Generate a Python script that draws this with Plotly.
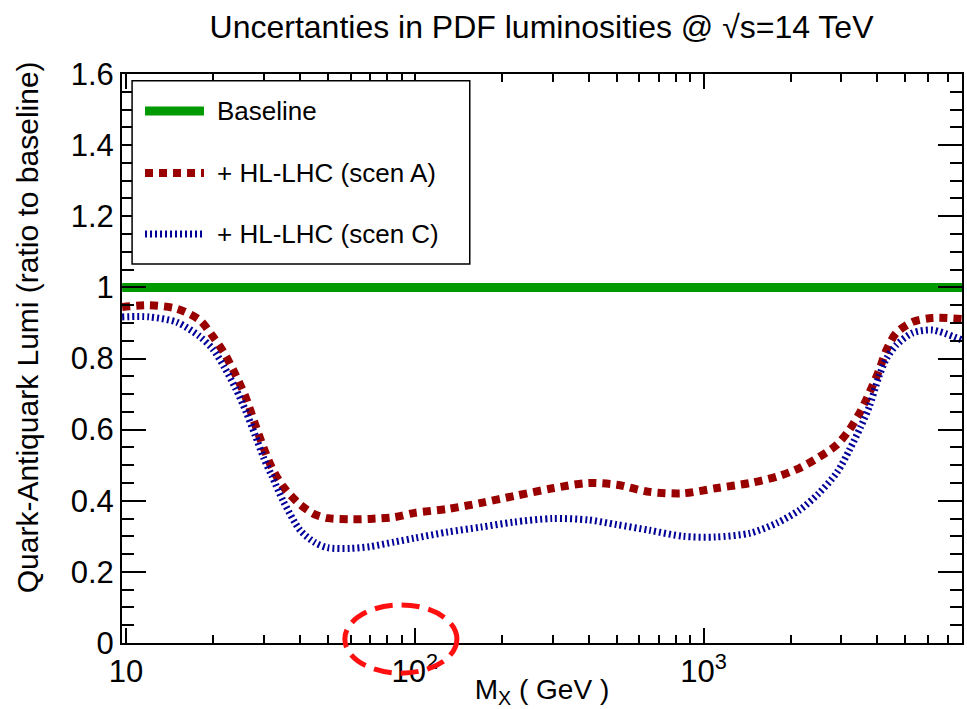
import numpy as np
import plotly.graph_objects as go

# Invariant mass grid (GeV)
mass = [9.7, 12, 15, 18, 20, 22, 24, 26, 28, 30, 32, 35, 40, 45, 50, 60, 70, 85,
        100, 130, 170, 220, 300, 400, 500, 650, 850, 1100, 1450, 1800, 2150,
        2500, 2900, 3200, 3500, 3750, 4050, 4300, 4650, 5300, 6200, 7850]

# Ratio of the quark-antiquark luminosity uncertainty to the baseline
baseline = [1.0] * len(mass)
scen_a = [0.945, 0.950, 0.940, 0.908, 0.862, 0.812, 0.753, 0.690, 0.615, 0.548,
          0.493, 0.440, 0.390, 0.362, 0.351, 0.348, 0.349, 0.354, 0.366, 0.377,
          0.394, 0.413, 0.435, 0.450, 0.445, 0.425, 0.421, 0.435, 0.450, 0.468,
          0.492, 0.522, 0.558, 0.600, 0.652, 0.703, 0.766, 0.824, 0.872, 0.903,
          0.914, 0.911]
scen_c = [0.917, 0.917, 0.902, 0.862, 0.826, 0.773, 0.715, 0.652, 0.585, 0.520,
          0.470, 0.400, 0.318, 0.283, 0.268, 0.266, 0.271, 0.284, 0.295, 0.312,
          0.326, 0.340, 0.350, 0.346, 0.333, 0.317, 0.300, 0.298, 0.309, 0.338,
          0.374, 0.420, 0.480, 0.543, 0.608, 0.665, 0.750, 0.800, 0.838, 0.872,
          0.880, 0.852]

series_names = ["Baseline", "+ HL-LHC (scen A)", "+ HL-LHC (scen C)"]

y_tickvals = [0, 0.2, 0.4, 0.6, 0.8, 1.0, 1.2, 1.4, 1.6]
y_ticktext = ["0", "0.2", "0.4", "0.6", "0.8", "1", "1.2", "1.4", "1.6"]
x_tickvals = [10, 100, 1000]
x_ticktext = ["10", "10<sup>2</sup>", "10<sup>3</sup>"]
x_minor = [20, 30, 40, 50, 60, 70, 80, 90, 200, 300, 400, 500, 600, 700, 800, 900,
           2000, 3000, 4000, 5000, 6000, 7000]

FONT = "Liberation Sans, Arial, Helvetica, sans-serif"

styles = [
    dict(color="#009900", width=9),
    dict(color="#990000", width=8, dash="8px,6px"),
    dict(color="#000099", width=7, dash="2px,3px"),
]

fig = go.Figure()
for name, vals, st in zip(series_names, [baseline, scen_a, scen_c], styles):
    fig.add_trace(go.Scatter(x=mass, y=vals, mode="lines", name=name,
                             line=dict(shape="spline", smoothing=0.8, **st),
                             showlegend=False))

# Legend box drawn in plot-area (paper) units
leg_x0, leg_x1, leg_y0, leg_y1 = 0.012, 0.414, 0.666, 0.988
fig.add_shape(type="rect", xref="paper", yref="paper",
              x0=leg_x0, x1=leg_x1, y0=leg_y0, y1=leg_y1,
              line=dict(color="black", width=1.5), fillcolor="white", layer="above")
row_y = [0.935, 0.826, 0.719]
for name, st, yy in zip(series_names, styles, row_y):
    fig.add_shape(type="line", xref="paper", yref="paper",
                  x0=0.0274, x1=0.0976, y0=yy, y1=yy, line=st, layer="above")
    fig.add_annotation(x=0.111, y=yy, xref="paper", yref="paper", text=name,
                       showarrow=False, xanchor="left", yanchor="middle",
                       font=dict(family=FONT, size=26, color="black"))

# Dashed ellipse highlighting the 10^2 region
fig.add_shape(type="circle", xref="paper", yref="paper",
              x0=0.332 - 0.0667, x1=0.332 + 0.0667,
              y0=0.007 - 0.060, y1=0.007 + 0.060,
              line=dict(color="#ff1010", width=5, dash="18px,9px"), layer="above")

# Vertical axis title
fig.add_annotation(x=-0.113, y=0.555, xref="paper", yref="paper",
                   text="Quark-Antiquark Lumi (ratio to baseline)", textangle=-90,
                   showarrow=False, xanchor="center", yanchor="middle",
                   font=dict(family=FONT, size=30, color="black"))

axis_common = dict(showline=True, linecolor="black", linewidth=2, mirror="allticks",
                   ticks="inside", tickcolor="black", tickwidth=2,
                   showgrid=False, zeroline=False, automargin=False,
                   tickfont=dict(family=FONT, size=31, color="black"))

fig.update_xaxes(type="log", range=[np.log10(9.69), np.log10(7850)],
                 tickmode="array", tickvals=x_tickvals, ticktext=x_ticktext,
                 ticklen=15,
                 minor=dict(tickmode="array", tickvals=x_minor, ticks="inside",
                            ticklen=8, tickwidth=1.5, tickcolor="black"),
                 title=dict(text="M<sub>X</sub> ( GeV )", standoff=0,
                            font=dict(family=FONT, size=28, color="black")),
                 **axis_common)
fig.update_yaxes(range=[0, 1.6], tickmode="array", tickvals=y_tickvals,
                 ticktext=y_ticktext, ticklen=24,
                 minor=dict(dtick=0.05, ticks="inside", ticklen=12, tickwidth=1.5,
                            tickcolor="black"),
                 **axis_common)

fig.update_layout(
    width=967, height=709,
    margin=dict(l=122, r=5, t=74, b=66, autoexpand=False),
    plot_bgcolor="white", paper_bgcolor="white",
    title=dict(text="Uncertanties in PDF luminosities @ √s=14 TeV",
               x=0.56, xanchor="center", y=0.962, yanchor="middle",
               font=dict(family=FONT, size=32, color="black")),
)

fig.write_html("out.html")
